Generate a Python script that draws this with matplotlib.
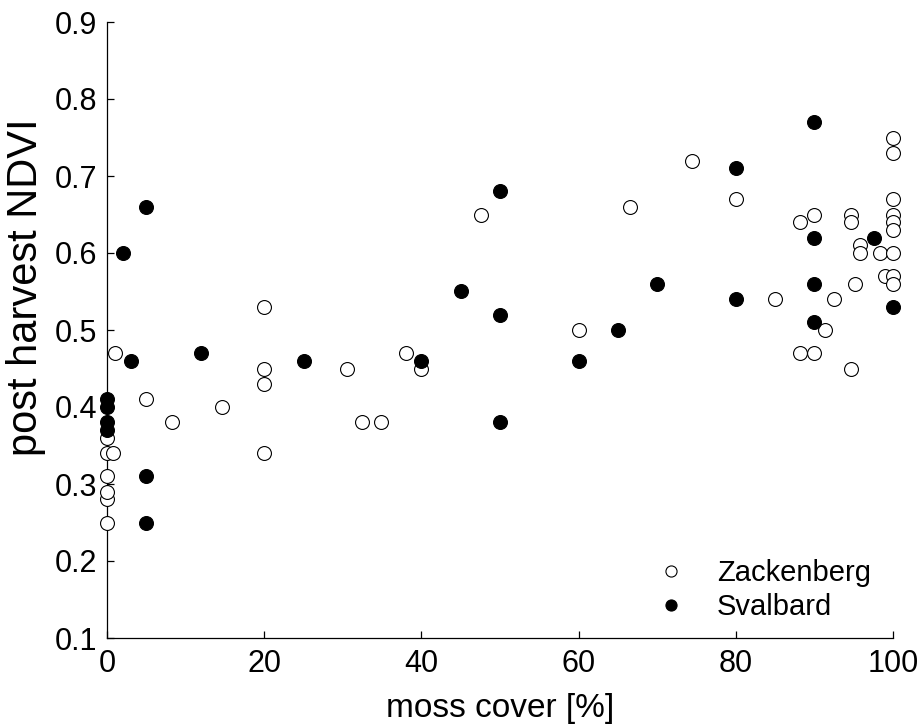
import matplotlib
matplotlib.use('Agg')
import matplotlib.pyplot as plt

# Zackenberg (open circles)
ZACK_X = [0, 0, 0, 0, 0, 0, 0.7, 1, 5, 8.3, 14.6,
          20, 20, 20, 20, 30.5, 32.5, 34.9, 38.1, 40, 47.6,
          60, 66.5, 74.4, 80, 85, 88.2, 88.2, 90, 90, 91.4, 92.5,
          94.7, 94.7, 94.7, 95.2, 95.8, 95.8, 98.3, 99,
          100, 100, 100, 100, 100, 100, 100, 100, 100]
ZACK_Y = [0.25, 0.28, 0.29, 0.31, 0.34, 0.36, 0.34, 0.47, 0.41, 0.38, 0.40,
          0.53, 0.45, 0.43, 0.34, 0.45, 0.38, 0.38, 0.47, 0.45, 0.65,
          0.50, 0.66, 0.72, 0.67, 0.54, 0.64, 0.47, 0.65, 0.47, 0.50, 0.54,
          0.65, 0.64, 0.45, 0.56, 0.61, 0.60, 0.60, 0.57,
          0.75, 0.73, 0.67, 0.65, 0.64, 0.63, 0.60, 0.57, 0.56]

# Svalbard (filled circles)
SVAL_X = [0, 0, 0, 0, 2, 3, 5, 5, 5, 12, 25, 40, 45, 50, 50, 50,
          60, 65, 70, 80, 80, 90, 90, 90, 90, 97.6, 100]
SVAL_Y = [0.41, 0.40, 0.38, 0.37, 0.60, 0.46, 0.66, 0.31, 0.25, 0.47, 0.46,
          0.46, 0.55, 0.68, 0.52, 0.38, 0.46, 0.50, 0.56, 0.71, 0.54,
          0.77, 0.62, 0.56, 0.51, 0.62, 0.53]

X_TICKS = [0, 20, 40, 60, 80, 100]
Y_TICKS = [0.1, 0.2, 0.3, 0.4, 0.5, 0.6, 0.7, 0.8, 0.9]

plt.rcParams['font.family'] = ['Liberation Sans', 'DejaVu Sans']

fig = plt.figure(figsize=(9.21, 7.25), dpi=100)
ax = fig.add_axes([107 / 921, 1 - 638 / 725, 786 / 921, 616 / 725])

ax.plot(ZACK_X, ZACK_Y, 'o', ms=10, mfc='white', mec='black', mew=0.8,
        label='Zackenberg', clip_on=False, zorder=3)
ax.plot(SVAL_X, SVAL_Y, 'o', ms=10, mfc='black', mec='black', mew=0.8,
        label='Svalbard', clip_on=False, zorder=3)

ax.set_xlim(0, 100)
ax.set_ylim(0.1, 0.9)
ax.set_xticks(X_TICKS)
ax.set_yticks(Y_TICKS)
ax.set_xticklabels([str(t) for t in X_TICKS])
ax.set_yticklabels(['%.1f' % t for t in Y_TICKS])
ax.tick_params(direction='in', length=5, width=0.9, labelsize=22, pad=8,
               colors='black')
ax.tick_params(axis='y', pad=7)

for side in ['top', 'right']:
    ax.spines[side].set_visible(False)
for side in ['left', 'bottom']:
    ax.spines[side].set_linewidth(0.9)

ax.set_xlabel('moss cover [%]', fontsize=24, labelpad=10)
ax.set_ylabel('post harvest NDVI', fontsize=30)
ax.yaxis.set_label_coords(-0.078, 0.57)

ax.legend(loc='lower right', bbox_to_anchor=(1.005, -0.015), frameon=False,
          fontsize=21, markerscale=0.8, handletextpad=0.8, labelspacing=0.2,
          handlelength=1.5)

plt.savefig('out.png', dpi=100)
